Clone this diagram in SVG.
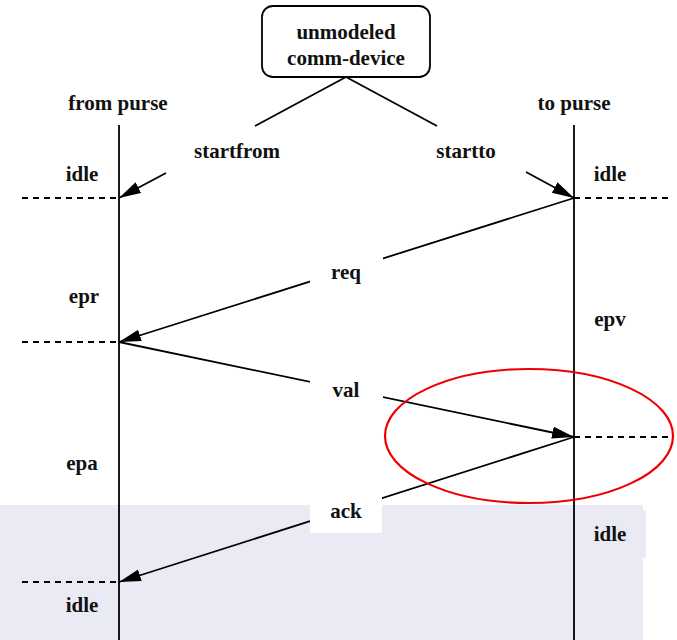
<svg xmlns="http://www.w3.org/2000/svg" width="677" height="640" viewBox="0 0 677 640">
<style>
text{font-family:"Liberation Serif","Times New Roman",serif;font-weight:bold;font-size:21px;fill:#111;text-anchor:middle}
.ln{stroke:#000;stroke-width:1.8;fill:none}
.ds{stroke:#000;stroke-width:1.8;stroke-dasharray:6,5;fill:none}
.sh{fill:#eaeaf4}
.wb{fill:#fff}
</style>
<defs>
<marker id="ah" markerUnits="userSpaceOnUse" markerWidth="24" markerHeight="14" refX="22" refY="6" orient="auto">
<path d="M0,0 L22,6 L0,12 z" fill="#000"/>
</marker>
</defs>
<rect class="sh" x="0" y="505" width="643" height="135"/>
<rect class="sh" x="580" y="510" width="66" height="48"/>
<g id="device">
<rect x="262" y="6" width="168" height="71" rx="11" fill="#fff" stroke="#000" stroke-width="1.8"/>
<text x="346" y="39">unmodeled</text>
<text x="346" y="65">comm-device</text>
</g>
<g id="from-purse">
<line class="ln" x1="119" y1="125" x2="119" y2="640"/>
<text x="118" y="110">from purse</text>
</g>
<g id="to-purse">
<line class="ln" x1="574" y1="125" x2="574" y2="640"/>
<text x="574" y="110">to purse</text>
</g>
<g id="connectors">
<line class="ln" x1="346" y1="77" x2="255" y2="126"/>
<line class="ln" x1="346" y1="77" x2="437" y2="126"/>
<line class="ln" x1="166" y1="173" x2="119" y2="198" marker-end="url(#ah)"/>
<line class="ln" x1="526" y1="172" x2="574" y2="198" marker-end="url(#ah)"/>
<line class="ln" x1="574" y1="198" x2="119" y2="342" marker-end="url(#ah)"/>
<line class="ln" x1="119" y1="342" x2="574" y2="437" marker-end="url(#ah)"/>
<line class="ln" x1="574" y1="437" x2="119" y2="582" marker-end="url(#ah)"/>
<line class="ds" x1="22" y1="198" x2="119" y2="198"/>
<line class="ds" x1="22" y1="342" x2="119" y2="342"/>
<line class="ds" x1="22" y1="582" x2="119" y2="582"/>
<line class="ds" x1="574" y1="198" x2="668" y2="198"/>
<line class="ds" x1="574" y1="437" x2="668" y2="437"/>
</g>
<g id="labels">
<rect class="wb" x="168" y="128" width="160" height="44"/>
<rect class="wb" x="400" y="128" width="120" height="44"/>
<text x="237" y="158">startfrom</text>
<text x="466" y="158">startto</text>
<rect class="wb" x="310" y="255" width="73" height="34"/>
<text x="346" y="279">req</text>
<rect class="wb" x="310" y="372" width="73" height="33"/>
<text x="346" y="397">val</text>
<rect class="wb" x="310" y="490" width="72" height="43"/>
<text x="346" y="518">ack</text>
<text x="82" y="181">idle</text>
<text x="610" y="181">idle</text>
<text x="84" y="303">epr</text>
<text x="610" y="326">epv</text>
<text x="82" y="470">epa</text>
<text x="610" y="541">idle</text>
<text x="82" y="612">idle</text>
</g>
<ellipse id="highlight" cx="529" cy="436" rx="144" ry="67" fill="none" stroke="#e00" stroke-width="2.2"/>
</svg>
